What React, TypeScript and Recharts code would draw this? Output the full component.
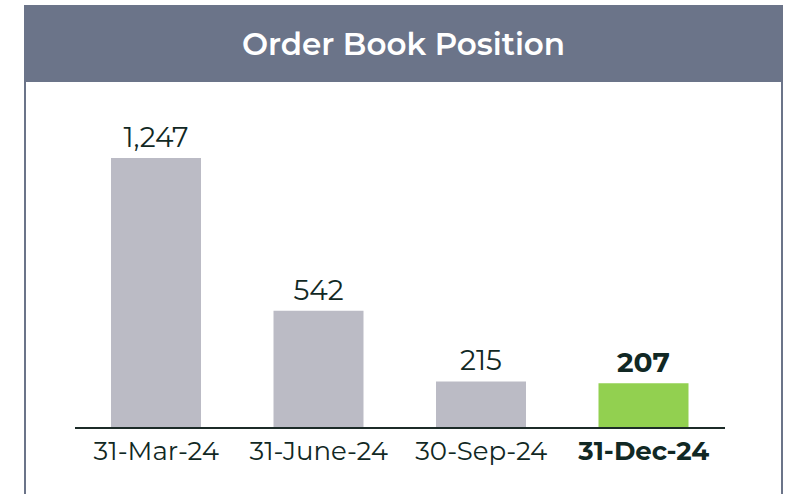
import React from "react"
import { BarChart, Bar, XAxis, YAxis, Cell, LabelList } from "recharts"

const dates = ["31-Mar-24", "31-June-24", "30-Sep-24", "31-Dec-24"]
const orders = [1247, 542, 215, 207]
const highlight = [false, false, false, true]

const chartData = dates.map((d, i) => ({
  date: d,
  value: orders[i],
  hl: highlight[i],
}))

const TEXT = "#112824"
const FONT = "Montserrat, 'Noto Sans', 'Open Sans', sans-serif"

const DateTick = (props: any) => {
  const { x, y, payload, index } = props
  const bold = highlight[index]
  return (
    <text
      x={x}
      y={y + 24}
      textAnchor="middle"
      fill={TEXT}
      fontSize={26}
      fontWeight={bold ? 700 : 400}
      fontFamily={FONT}
    >
      {payload.value}
    </text>
  )
}

const ValueLabel = (props: any) => {
  const { x, y, width, value, index } = props
  const bold = highlight[index]
  return (
    <text
      x={x + width / 2}
      y={y - 11}
      textAnchor="middle"
      fill={TEXT}
      fontSize={28}
      fontWeight={bold ? 700 : 400}
      fontFamily={FONT}
    >
      {value.toLocaleString("en-US")}
    </text>
  )
}

export default function App() {
  return (
    <div style={{ position: "absolute", left: 0, top: 0, width: 793, height: 494, background: "#fff", overflow: "hidden" }}>
      <div
        style={{
          position: "absolute",
          left: 24,
          top: 5,
          width: 755,
          height: 500,
          borderLeft: "2px solid #6b7489",
          borderRight: "2px solid #6b7489",
        }}
      />
      <div
        style={{
          position: "absolute",
          left: 24,
          top: 5,
          width: 759,
          height: 77,
          background: "#6b7489",
          color: "#fff",
          display: "flex",
          alignItems: "center",
          justifyContent: "center",
          fontFamily: FONT,
          fontWeight: 600,
          fontSize: 31,
        }}
      >
        Order Book Position
      </div>
      <div style={{ position: "absolute", left: 0, top: 0 }}>
        <BarChart
          width={793}
          height={494}
          data={chartData}
          margin={{ top: 125, right: 68, bottom: 0, left: 75 }}
        >
          <YAxis hide domain={[0, 1400]} width={0} />
          <XAxis
            dataKey="date"
            height={66}
            axisLine={{ stroke: "#1c2b28", strokeWidth: 2 }}
            tickLine={false}
            tick={<DateTick />}
            interval={0}
          />
          <Bar dataKey="value" barSize={90} isAnimationActive={false}>
            {chartData.map((d, i) => (
              <Cell key={i} fill={d.hl ? "#92d050" : "#bbbbc5"} />
            ))}
            <LabelList dataKey="value" content={<ValueLabel />} />
          </Bar>
        </BarChart>
      </div>
    </div>
  )
}
